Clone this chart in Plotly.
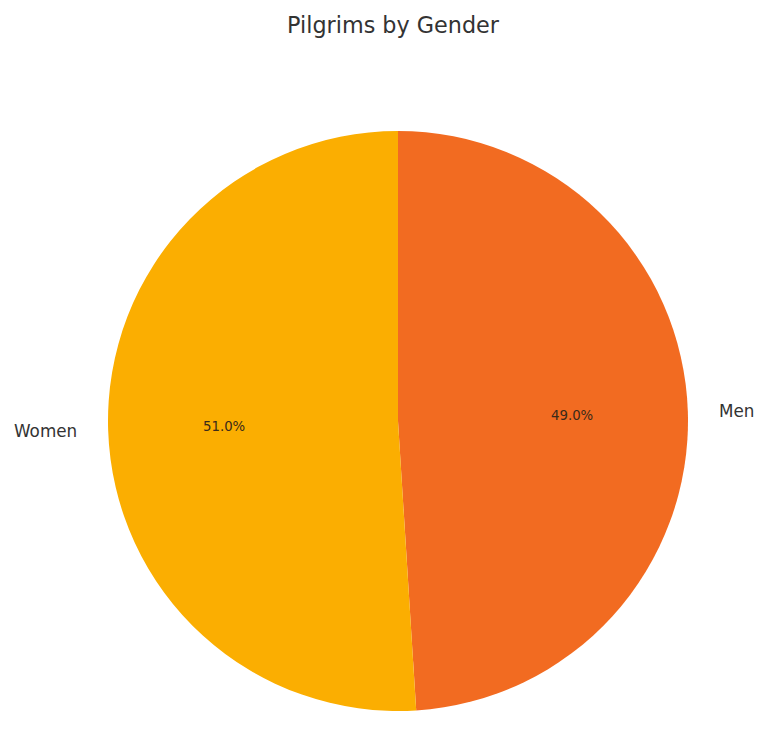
import math
import plotly.graph_objects as go

# Data
labels = ['Men', 'Women']
values = [49.0, 51.0]
colors = ['#F26B21', '#FBAE01']

W, H = 770, 734
cx, cy, r = 390, 413, 290  # pie centre / radius in pixels

fig = go.Figure()
fig.add_trace(go.Pie(
    labels=labels, values=values, sort=False, direction='clockwise', rotation=0,
    marker=dict(colors=colors, line=dict(width=0)),
    textinfo='none', hoverinfo='label+percent', showlegend=False,
    domain=dict(x=[(cx - r) / W, (cx + r) / W], y=[(H - cy - r) / H, (H - cy + r) / H]),
))

# matplotlib-style labels (1.1 r) and percentages (0.6 r)
total = sum(values)
start = 90.0
annotations = []
for lab, v in zip(labels, values):
    span = 360.0 * v / total
    mid = math.radians(start - span / 2)
    start -= span
    dx, dy = math.cos(mid), math.sin(mid)
    annotations.append(dict(
        x=(cx + 1.1 * r * dx) / W, y=(H - cy + 1.1 * r * dy) / H,
        xref='paper', yref='paper', text=lab, showarrow=False,
        xanchor='left' if dx > 0 else 'right', yanchor='middle',
        font=dict(size=16.8, color='#333333'),
    ))
    annotations.append(dict(
        x=(cx + 0.6 * r * dx) / W, y=(H - cy + 0.6 * r * dy) / H,
        xref='paper', yref='paper', text=f'{100 * v / total:.1f}%', showarrow=False,
        xanchor='center', yanchor='middle',
        font=dict(size=13.3, color='#3a2a1a'),
    ))

fig.update_layout(
    width=W, height=H,
    margin=dict(l=0, r=0, t=0, b=0),
    paper_bgcolor='white', plot_bgcolor='white',
    font=dict(family='DejaVu Sans'),
    title=dict(text='Pilgrims by Gender', x=0.5, xanchor='center',
               y=1 - 17 / H, yanchor='middle', yref='container',
               font=dict(size=22.3, color='#333333')),
    annotations=annotations,
)

fig.write_html('out.html')
